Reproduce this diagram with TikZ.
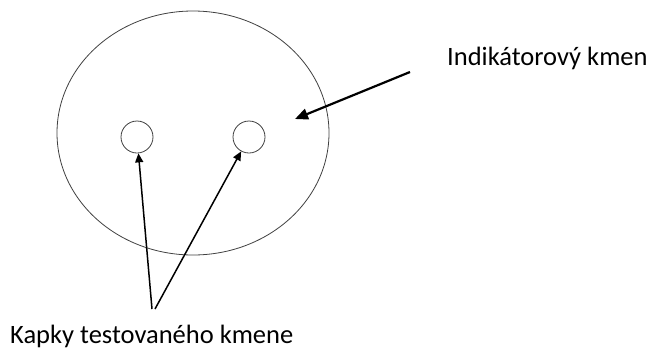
\documentclass[tikz,border=0pt]{standalone}
\usepackage{fontspec}
\setmainfont{Carlito}
\usetikzlibrary{shapes.geometric,arrows.meta}
\begin{document}
\begin{tikzpicture}[x=1pt,y=-1pt,
  plate/.style={draw=black!75,line width=0.8pt,ellipse,minimum width=272pt,minimum height=244pt,inner sep=0pt},
  drop/.style={draw=black!75,line width=0.8pt,circle,minimum size=32pt,inner sep=0pt},
  lbl/.style={font=\fontsize{26.5}{29}\selectfont,inner sep=0pt},
  thinarrow/.style={line width=1.5pt,-{Triangle[length=9pt,width=8pt]}},
  thickarrow/.style={line width=2.2pt,-{Triangle[length=13pt,width=11pt]}}]
\useasboundingbox (0,0) rectangle (651,349);
\node[plate] (plate) at (193,133) {};
\node[drop] (d1) at (137,137) {};
\node[drop] (d2) at (249,137) {};
\node[lbl,anchor=base west] (ind) at (447,65) {Indikátorový kmen};
\node[lbl,anchor=base west] (kap) at (10,343) {Kapky testovaného kmene};
\coordinate (s0) at (410,72);
\coordinate (t0) at (295,119);
\coordinate (s1) at (152,309);
\coordinate (s2) at (155,309);
\draw[thickarrow] (s0) -- (t0);
\draw[thinarrow] (s1) -- (d1);
\draw[thinarrow] (s2) -- (d2);
\end{tikzpicture}
\end{document}
